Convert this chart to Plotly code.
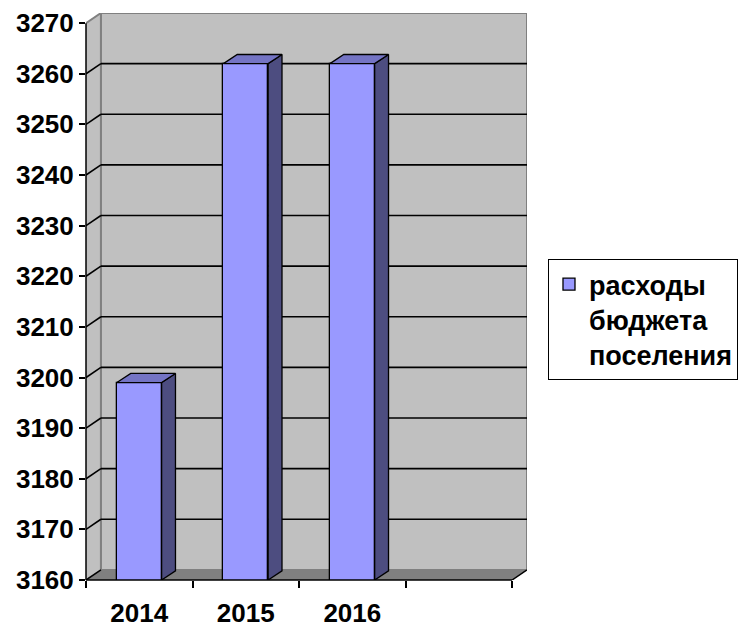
import plotly.graph_objects as go

# ---- data ----
years = ["2014", "2015", "2016"]
values = [3199, 3262, 3262]
y_ticks = [3160, 3170, 3180, 3190, 3200, 3210, 3220, 3230, 3240, 3250, 3260, 3270]
series_name = "расходы<br>бюджета<br>поселения"
n_slots = 4  # category slots on the axis (last one empty)

# ---- style / geometry ----
FONT = "Liberation Sans"
FRONT = "#9999FF"
SIDE = "#4D4D80"
TOP = "#7474C4"
WALL = "#C0C0C0"
FLOOR = "#808080"
EDGE = "#808080"
DX, DY = 0.14, 2.0        # depth offset of the walls (data units)
BW, BDX, BDY = 0.42, 0.13, 1.8  # bar width and bar depth offset

positions = list(range(len(years)))
x_lo, x_hi = -0.5, n_slots - 0.5
y_lo, y_hi = y_ticks[0], y_ticks[-1]
boundaries = [x_lo + i for i in range(n_slots + 1)]

fig = go.Figure()

fig.add_trace(go.Bar(
    x=positions, y=values, width=BW, name=series_name,
    marker=dict(color=FRONT, line=dict(color="black", width=1.3)),
    hoverinfo="skip",
))

for p, v in zip(positions, values):
    r = p + BW / 2
    l = p - BW / 2
    # side face
    fig.add_trace(go.Scatter(
        x=[r, r, r + BDX, r + BDX, r], y=[y_lo, v, v + BDY, y_lo + BDY, y_lo],
        mode="lines", fill="toself", fillcolor=SIDE,
        line=dict(color="black", width=1.3), showlegend=False, hoverinfo="skip"))
    # top face
    fig.add_trace(go.Scatter(
        x=[l, r, r + BDX, l + BDX, l], y=[v, v, v + BDY, v + BDY, v],
        mode="lines", fill="toself", fillcolor=TOP,
        line=dict(color="black", width=1.3), showlegend=False, hoverinfo="skip"))

shapes = []
# back wall
shapes.append(dict(type="rect", xref="x", yref="y", layer="below",
                   x0=x_lo + DX, x1=x_hi + DX, y0=y_lo + DY, y1=y_hi + DY,
                   fillcolor=WALL, line=dict(color=EDGE, width=2)))
# side wall
shapes.append(dict(type="path", xref="x", yref="y", layer="below",
                   path=f"M{x_lo},{y_lo} L{x_lo},{y_hi} L{x_lo+DX},{y_hi+DY} L{x_lo+DX},{y_lo+DY} Z",
                   fillcolor=WALL, line=dict(width=0)))
# floor
shapes.append(dict(type="path", xref="x", yref="y", layer="below",
                   path=f"M{x_lo},{y_lo} L{x_hi},{y_lo} L{x_hi+DX},{y_lo+DY} L{x_lo+DX},{y_lo+DY} Z",
                   fillcolor=FLOOR, line=dict(width=0)))
# back-wall left edge
shapes.append(dict(type="line", xref="x", yref="y", layer="below",
                   x0=x_lo + DX, x1=x_lo + DX, y0=y_lo + DY, y1=y_hi + DY,
                   line=dict(color=EDGE, width=2)))
# gridlines on back wall + side wall
for v in y_ticks[1:-1]:
    shapes.append(dict(type="line", xref="x", yref="y", layer="below",
                       x0=x_lo + DX, x1=x_hi + DX, y0=v + DY, y1=v + DY,
                       line=dict(color="black", width=1.6)))
for v in y_ticks[:-1]:
    shapes.append(dict(type="line", xref="x", yref="y", layer="below",
                       x0=x_lo, x1=x_lo + DX, y0=v, y1=v + DY,
                       line=dict(color="black", width=1.6)))
shapes.append(dict(type="line", xref="x", yref="y", layer="below",
                   x0=x_lo, x1=x_lo + DX, y0=y_hi, y1=y_hi + DY,
                   line=dict(color=EDGE, width=2)))
# front axis lines
shapes.append(dict(type="line", xref="paper", yref="y", layer="above",
                   x0=0, x1=0, y0=y_lo, y1=y_hi, line=dict(color="black", width=1.5)))
shapes.append(dict(type="line", xref="x", yref="paper", layer="above",
                   x0=x_lo, x1=x_hi, y0=0, y1=0, line=dict(color="black", width=1.5)))
shapes.append(dict(type="line", xref="x", yref="y", layer="above",
                   x0=x_hi, x1=x_hi + DX, y0=y_lo, y1=y_lo + DY,
                   line=dict(color="black", width=1.5)))

fig.update_layout(
    width=747, height=627,
    margin=dict(l=78, r=228, t=5, b=55, autoexpand=False),
    paper_bgcolor="white", plot_bgcolor="white",
    font=dict(family=FONT, color="black"),
    shapes=shapes,
    bargap=0,
    showlegend=True,
    legend=dict(
        x=1.0476, y=0.566, xanchor="left", yanchor="top",
        bordercolor="black", borderwidth=1, bgcolor="white",
        font=dict(family=FONT, size=27, weight="bold", color="black"),
        valign="top", itemwidth=30,
    ),
    xaxis=dict(
        range=[x_lo, x_hi + DX], tickvals=positions, ticktext=years,
        ticks="", showgrid=False, zeroline=False, showline=False,
        tickfont=dict(family=FONT, size=26, weight="bold", color="black"),
        ticklabelstandoff=15, automargin=False,
        minor=dict(tickmode="array", tickvals=boundaries, ticks="outside",
                   ticklen=7, tickcolor="black", tickwidth=1.5, showgrid=False),
        fixedrange=True,
    ),
    yaxis=dict(
        range=[y_lo, y_hi + DY], tickvals=y_ticks,
        ticks="outside", ticklen=6, tickcolor="black", tickwidth=1.5,
        showgrid=False, zeroline=False, showline=False, automargin=False,
        tickfont=dict(family=FONT, size=26, weight="bold", color="black"),
        fixedrange=True,
    ),
)

fig.write_html("out.html")
